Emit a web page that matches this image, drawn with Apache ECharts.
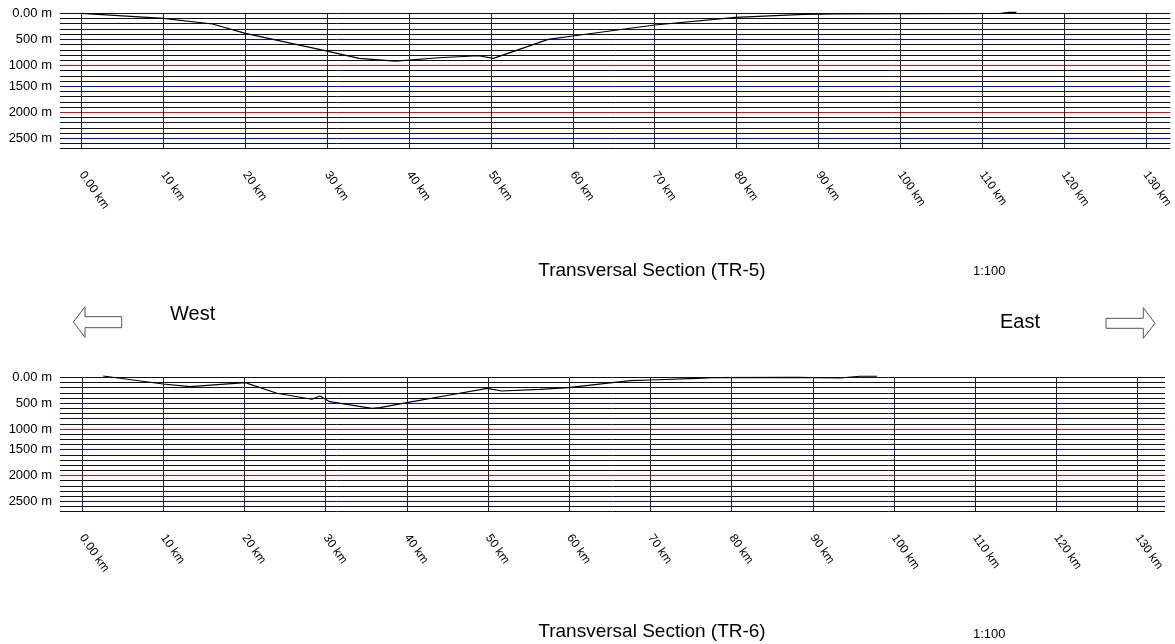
<!DOCTYPE html>
<html>
<head>
<meta charset="utf-8">
<script src="https://cdn.jsdelivr.net/npm/echarts@6/dist/echarts.min.js"></script>
<style>
html,body{margin:0;padding:0;background:#fff;}
#chart{width:1175px;height:644px;}
</style>
</head>
<body>
<div id="chart"></div>
<script>
// ---- Data ----
// Transversal Section TR-5 : distance (km) and depth (m)
const tr5Km    = [0, 10.0, 16.0, 20.0, 30.0, 33.9, 38.3, 40.0, 43.6, 48.5, 50.3, 57.0, 60.0, 70.0, 79.9, 88.2, 92.3, 102.0, 112.3, 113.3, 114.2];
const tr5Depth = [0, 96, 206, 385, 725, 865, 917, 898, 854, 815, 865, 500, 436, 225, 77, 19, 13, 5, 0, -19, -19];
// Transversal Section TR-6
const tr6Km    = [2.6, 10.0, 13.3, 20.1, 24.0, 28.3, 29.3, 30.5, 35.7, 36.7, 40.0, 45.3, 49.9, 51.7, 56.4, 59.9, 67.5, 70.0, 75.7, 77.7, 88.0, 93.3, 95.8, 97.9];
const tr6Depth = [-25, 130, 182, 104, 309, 425, 362, 472, 600, 588, 491, 342, 213, 265, 232, 201, 66, 52, 19, 8, 0, 14, -20, -20];

// Axis ticks
const kmTicks = [0, 10, 20, 30, 40, 50, 60, 70, 80, 90, 100, 110, 120, 130];
const kmTickLabels = ['0.00 km', '10 km', '20 km', '30 km', '40 km', '50 km', '60 km', '70 km', '80 km', '90 km', '100 km', '110 km', '120 km', '130 km'];
// depth labels and the grid level (m) where each sits in the reference
const depthLabels  = ['0.00 m', '500 m', '1000 m', '1500 m', '2000 m', '2500 m'];
const depthLabelAt = [0, 500, 1000, 1400, 1900, 2400];
// highlighted reference levels
const blueLevels = [500, 1400, 2400];
const redLevels  = [1000, 1900];

const titles = ['Transversal Section (TR-5)', 'Transversal Section (TR-6)'];
const scaleText = '1:100';

// ---- Chart ----
const FONT = '"Liberation Sans", Arial, sans-serif';
const chart = echarts.init(document.getElementById('chart'), null, {renderer: 'canvas'});

function zip(a, b) { return a.map((v, i) => [v, b[i]]); }

const Y_MIN = 0, Y_MAX = 2600, Y_STEP = 100;
const levelColors = [];
for (let v = Y_MIN; v <= Y_MAX; v += Y_STEP) {
  levelColors.push(blueLevels.indexOf(v) >= 0 ? '#0000ff' : (redLevels.indexOf(v) >= 0 ? '#ff0000' : '#111'));
}

const grids = [
  {left: 60, top: 13.3, width: 1115, height: 135.4},
  {left: 60, top: 377.3, width: 1105, height: 134.4}
];
const xRanges = [[-2.64, 133.0], [-2.71, 133.37]];

function xAxisFor(i) {
  return {
    type: 'value', gridIndex: i, min: xRanges[i][0], max: xRanges[i][1],
    axisLine: {show: false},
    axisTick: {show: true, length: 21, customValues: kmTicks, lineStyle: {color: '#222', width: 1}},
    splitLine: {show: true, lineStyle: {color: '#222', width: 1}},
    axisLabel: {
      customValues: kmTicks, rotate: -55, margin: 24,
      fontFamily: FONT, fontSize: 12, color: '#000',
      formatter: v => kmTickLabels[kmTicks.indexOf(v)] || ''
    }
  };
}
function yAxisFor(i) {
  return {
    type: 'value', gridIndex: i, inverse: true, min: Y_MIN, max: Y_MAX, interval: Y_STEP,
    axisLine: {show: false}, axisTick: {show: false},
    splitLine: {show: true, lineStyle: {color: levelColors, width: 1}},
    axisLabel: {
      customValues: depthLabelAt, margin: 8,
      fontFamily: FONT, fontSize: 13, color: '#000',
      formatter: v => depthLabels[depthLabelAt.indexOf(v)] || ''
    }
  };
}
function profileSeries(i, km, depth) {
  return {
    type: 'line', xAxisIndex: i, yAxisIndex: i, data: zip(km, depth),
    showSymbol: false, symbol: 'none', clip: false, silent: true,
    lineStyle: {color: '#000', width: 1.2}, z: 20
  };
}

function arrow(points) {
  return {type: 'polygon', shape: {points: points}, style: {fill: '#fff', stroke: '#555', lineWidth: 1}, silent: true};
}
function txt(x, y, text, size, align) {
  return {type: 'text', x: x, y: y, silent: true,
    style: {text: text, font: size + 'px ' + FONT, fill: '#000', textAlign: align || 'left', textVerticalAlign: 'middle'}};
}

chart.setOption({
  animation: false,
  backgroundColor: '#fff',
  grid: grids,
  xAxis: [xAxisFor(0), xAxisFor(1)],
  yAxis: [yAxisFor(0), yAxisFor(1)],
  series: [profileSeries(0, tr5Km, tr5Depth), profileSeries(1, tr6Km, tr6Depth)],
  graphic: [
    txt(652, 271, titles[0], 19, 'center'),
    txt(973, 271, scaleText, 13),
    txt(652, 632, titles[1], 19, 'center'),
    txt(973, 634, scaleText, 13),
    txt(170, 314.5, 'West', 20),
    txt(1000, 322.3, 'East', 20),
    arrow([[73.3, 322], [85, 306.7], [85, 316.7], [121.7, 316.7], [121.7, 327.7], [85, 327.7], [85, 337.3]]),
    arrow([[1106, 318.3], [1143.3, 318.3], [1143.3, 307.7], [1155, 323.3], [1143.3, 338.3], [1143.3, 328.3], [1106, 328.3]])
  ]
});
</script>
</body>
</html>
